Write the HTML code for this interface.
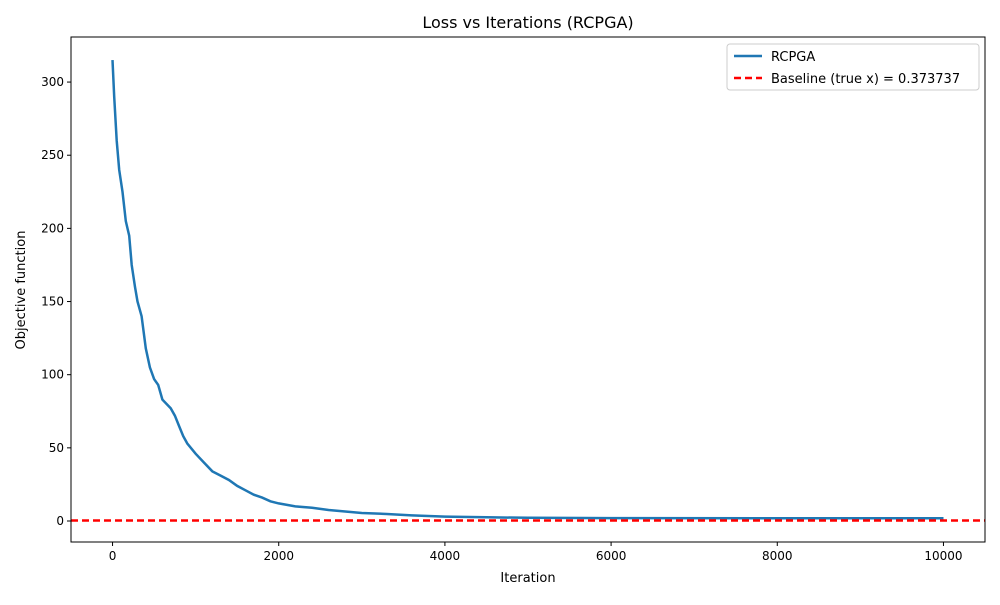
<!DOCTYPE html>
<html><head><meta charset="utf-8"><style>
body{margin:0;background:#fff;font-family:"Liberation Sans","DejaVu Sans",sans-serif;}
svg text{font-family:"DejaVu Sans","Liberation Sans",sans-serif;}
</style></head><body>
<svg id="chart" width="1000" height="600" xmlns="http://www.w3.org/2000/svg">
<rect width="1000" height="600" fill="#fff"/>
<text x="528" y="28" font-size="16" text-anchor="middle">Loss vs Iterations (RCPGA)</text>
<g id="plot"></g>
<text x="528" y="582" font-size="13" text-anchor="middle">Iteration</text>
<text transform="translate(25,290) rotate(-90)" font-size="13" text-anchor="middle">Objective function</text>
<g>
<rect x="727" y="44" width="252" height="46" fill="#fff" stroke="#ccc" rx="3"/>
<line x1="734" y1="56" x2="762" y2="56" stroke="#1f77b4" stroke-width="2.5"/>
<text x="771" y="61" font-size="13">RCPGA</text>
<line x1="734" y1="78" x2="762" y2="78" stroke="red" stroke-width="2.5" stroke-dasharray="7,4"/>
<text x="771" y="83" font-size="13">Baseline (true x) = 0.373737</text>
</g>
</svg>
<script>
const iterations=[0,20,50,80,120,160,200,230,270,300,350,400,450,500,550,600,700,750,800,850,900,1000,1100,1200,1300,1400,1500,1600,1700,1800,1900,2000,2200,2400,2600,2800,3000,3300,3600,4000,4500,5000,6000,8000,10000];
const losses=[315,290,260,240,225,205,195,175,160,150,140,118,105,97,93,83,77,72,65,58,53,46,40,34,31,28,24,21,18,16,13.5,12,10,9,7.5,6.5,5.5,4.8,3.8,3,2.5,2.2,2,1.9,1.9];
const baseline=0.373737;
const xTicks=[0,2000,4000,6000,8000,10000];
const yTicks=[0,50,100,150,200,250,300];
const L=71,R=985,T=37,B=542,xmin=-500,xmax=10500,ymin=-14.35,ymax=330.8;
const sx=v=>L+(v-xmin)/(xmax-xmin)*(R-L);
const sy=v=>B-(v-ymin)/(ymax-ymin)*(B-T);
const g=document.getElementById('plot');const NS='http://www.w3.org/2000/svg';
function mk(t,a){const e=document.createElementNS(NS,t);for(const k in a)e.setAttribute(k,a[k]);g.appendChild(e);return e;}
let d='';iterations.forEach((x,i)=>{d+=(i?'L':'M')+sx(x).toFixed(1)+','+sy(losses[i]).toFixed(1);});
const line=mk('path',{d:d,fill:'none',stroke:'#1f77b4','stroke-width':2.5});


const bl=mk('line',{x1:L,x2:R,y1:sy(baseline),y2:sy(baseline),stroke:'red','stroke-width':2.5,'stroke-dasharray':'7,4'});


const frame=mk('rect',{x:L,y:T,width:R-L,height:B-T,fill:'none',stroke:'#000','stroke-width':1});


xTicks.forEach(v=>{const x=sx(v);mk('line',{x1:x,x2:x,y1:B,y2:B+4,stroke:'#000'});
const t=mk('text',{x:x,y:B+18,'font-size':12,'text-anchor':'middle'});t.textContent=v;

});
yTicks.forEach(v=>{const y=sy(v);mk('line',{x1:L-4,x2:L,y1:y,y2:y,stroke:'#000'});
const t=mk('text',{x:L-7,y:y+4,'font-size':12,'text-anchor':'end'});t.textContent=v;

});
</script>
</body></html>
